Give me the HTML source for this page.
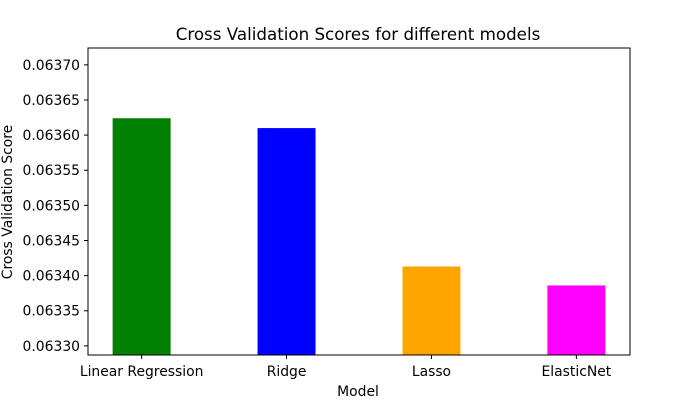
<!DOCTYPE html>
<html><head><meta charset="utf-8"><style>
body{margin:0;background:#fff;}
svg{font-family:"DejaVu Sans","Liberation Sans",sans-serif;}
</style></head><body>
<svg id="chart" width="700" height="400" xmlns="http://www.w3.org/2000/svg">
<rect width="700" height="400" fill="#fff"/>
<text x="358" y="40" text-anchor="middle" font-size="16.7">Cross Validation Scores for different models</text>
<g id="bars"></g>
<g id="yticks"></g>
<g id="xticks"></g>
<rect x="88" y="48" width="542" height="307" fill="none" stroke="#000" stroke-width="1"/>
<text x="358" y="396" text-anchor="middle" font-size="13.9">Model</text>
<text transform="translate(12,202) rotate(-90)" text-anchor="middle" font-size="13.9">Cross Validation Score</text>
</svg>
<script>
const categories=["Linear Regression","Ridge","Lasso","ElasticNet"];
const scores=[0.063624,0.06361,0.063413,0.063386];
const colors=["green","blue","orange","magenta"];
const yTicks=[0.06330,0.06335,0.06340,0.06345,0.06350,0.06355,0.06360,0.06365,0.06370];
const L=88,R=630,T=48,B=355;
const yMin=0.063287,yMax=0.063724,xMin=-0.37,xMax=3.37;
const ys=v=>B-(v-yMin)/(yMax-yMin)*(B-T);
const xs=i=>L+(i-xMin)/(xMax-xMin)*(R-L);
const NS="http://www.w3.org/2000/svg";
const bw=0.4*(R-L)/(xMax-xMin);
const gb=document.getElementById('bars'),gy=document.getElementById('yticks'),gx=document.getElementById('xticks');
function mk(t,a,p){const e=document.createElementNS(NS,t);for(const k in a)e.setAttribute(k,a[k]);p.appendChild(e);return e;}
categories.forEach((c,i)=>{
  const y=ys(scores[i]);
  const r=mk('rect',{x:xs(i)-bw/2,y:y,width:bw,height:B-y,fill:colors[i]},gb);
  
  
  const tk=mk('line',{x1:xs(i),x2:xs(i),y1:B,y2:B+4,stroke:'#000'},gx);
  
  
  const t=mk('text',{x:xs(i),y:B+21,'text-anchor':'middle','font-size':'13.9'},gx);
  t.textContent=c;
  
  
});
yTicks.forEach(v=>{
  const y=ys(v);
  const tk=mk('line',{x1:L-4,x2:L,y1:y,y2:y,stroke:'#000'},gy);
  
  
  const t=mk('text',{x:L-8,y:y+5,'text-anchor':'end','font-size':'13.9'},gy);
  t.textContent=v.toFixed(5);
  
  
});
</script>
</body></html>
